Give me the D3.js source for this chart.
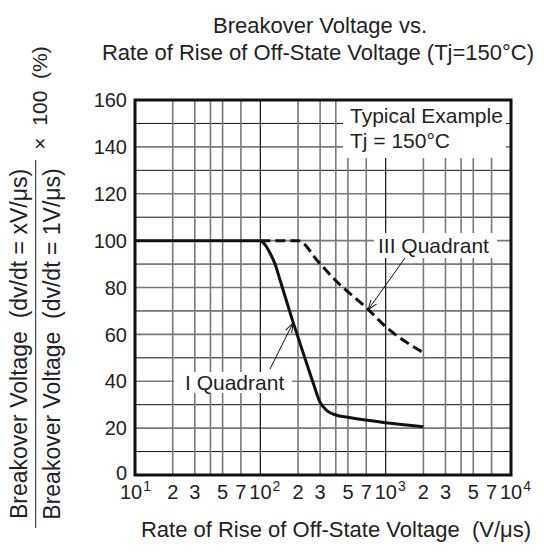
<!DOCTYPE html>
<html lang="en">
<head>
  <meta charset="UTF-8" />
  <title>Breakover Voltage vs. Rate of Rise of Off-State Voltage</title>
  <script src="https://d3js.org/d3.v7.min.js"></script>
  <style>
    body {
      margin: 0;
      background: #fff;
    }
    svg {
      font-family: "Liberation Sans", Arial, sans-serif;
      fill: #222;
    }
  </style>
</head>
<body>
  <svg id="chart" width="544" height="559"></svg>

  <script>
    // Data
    const iQuadX = [10, 100, 110, 120, 130, 144, 183, 220, 265, 300, 340, 400, 500, 1000, 2000];
    const iQuadY = [100, 100, 98, 94.5, 90.5, 83, 65, 52, 39, 31, 27.5, 25.6, 24.6, 22.3, 20.6];
    const iiiQuadX = [100, 200, 290, 395, 720, 1000, 2000];
    const iiiQuadY = [100, 100, 91, 83.2, 70.8, 63.3, 52.2];

    const yTicks = [0, 20, 40, 60, 80, 100, 120, 140, 160];
    const decades = [10, 100, 1000, 10000];
    const decadeExp = ["1", "2", "3", "4"];
    const minorMult = [2, 3, 5, 7];
    const gridMult = [2, 3, 4, 5, 7];

    const svg = d3.select("#chart");
    const pLeft = 135, pRight = 511, pTop = 100, pBottom = 475;

    const x = d3.scaleLog().domain([10, 10000]).range([pLeft, pRight]);
    const y = d3.scaleLinear().domain([0, 160]).range([pBottom, pTop]);

    // Grid
    const grid = svg.append("g");
    // horizontal lines every 10
    d3.range(10, 160, 10).forEach(v => {
      const major = v % 20 === 0;
      grid.append("line")
        .attr("x1", pLeft).attr("x2", pRight)
        .attr("y1", y(v)).attr("y2", y(v))
        .attr("stroke", major ? "#7a7a7a" : "#111")
        .attr("stroke-width", major ? 1.6 : 1);
    });
    // vertical lines
    decades.slice(0, 3).forEach(d => {
      gridMult.forEach(m => {
        grid.append("line")
          .attr("x1", x(d * m)).attr("x2", x(d * m))
          .attr("y1", pTop).attr("y2", pBottom)
          .attr("stroke", "#7a7a7a").attr("stroke-width", 1.6);
      });
      if (d > 10) {
        grid.append("line")
          .attr("x1", x(d)).attr("x2", x(d))
          .attr("y1", pTop).attr("y2", pBottom)
          .attr("stroke", "#111").attr("stroke-width", 1.2);
      }
    });

    // white boxes behind annotations
    const boxes = [
      [343, 100, 506, 158],
      [374, 233, 497, 258],
      [174, 372, 292, 393]
    ];
    boxes.forEach(b => {
      svg.append("rect")
        .attr("x", b[0]).attr("y", b[1])
        .attr("width", b[2] - b[0]).attr("height", b[3] - b[1])
        .attr("fill", "#fff");
    });

    // Frame
    svg.append("rect")
      .attr("x", pLeft).attr("y", pTop)
      .attr("width", pRight - pLeft).attr("height", pBottom - pTop)
      .attr("fill", "none").attr("stroke", "#111").attr("stroke-width", 3);

    // Curves
    const line = d3.line()
      .x(d => x(d[0]))
      .y(d => y(d[1]))
      .curve(d3.curveMonotoneX);

    svg.append("path")
      .datum(iiiQuadX.map((v, i) => [v, iiiQuadY[i]]))
      .attr("d", line)
      .attr("fill", "none").attr("stroke", "#111")
      .attr("stroke-width", 3).attr("stroke-dasharray", "10,5");

    svg.append("path")
      .datum(iQuadX.map((v, i) => [v, iQuadY[i]]))
      .attr("d", line)
      .attr("fill", "none").attr("stroke", "#111")
      .attr("stroke-width", 3);

    // Y tick labels
    svg.append("g").selectAll("text")
      .data(yTicks).enter().append("text")
      .attr("x", 127).attr("y", d => y(d) - (d === 0 ? 2 : 0))
      .attr("dy", "0.36em")
      .attr("text-anchor", "end")
      .attr("font-size", 20)
      .text(d => d);

    // X tick labels
    const xl = svg.append("g").attr("font-size", 20);
    decades.forEach((d, i) => {
      const t = xl.append("text")
        .attr("x", x(d) - 11 - (i === 0 ? 4 : 0))
        .attr("y", 499);
      t.append("tspan").text("10");
      t.append("tspan").attr("font-size", 14).attr("dy", -8).attr("dx", 1).text(decadeExp[i]);
    });
    decades.slice(0, 3).forEach(d => {
      minorMult.forEach(m => {
        xl.append("text")
          .attr("x", x(d * m)).attr("y", 499)
          .attr("text-anchor", "middle")
          .text(m);
      });
    });

    // Title
    svg.append("text")
      .attr("x", 320).attr("y", 33)
      .attr("text-anchor", "middle").attr("font-size", 22)
      .text("Breakover Voltage vs.");
    svg.append("text")
      .attr("x", 318).attr("y", 60)
      .attr("text-anchor", "middle").attr("font-size", 22)
      .text("Rate of Rise of Off-State Voltage (Tj=150°C)");

    // X axis title
    svg.append("text")
      .attr("x", 336).attr("y", 537)
      .attr("text-anchor", "middle").attr("font-size", 22)
      .attr("xml:space", "preserve")
      .text("Rate of Rise of Off-State Voltage  (V/\u03bcs)");

    // Y axis title (fraction)
    svg.append("text")
      .attr("transform", "translate(26.5,344) rotate(-90)")
      .attr("text-anchor", "middle").attr("font-size", 23)
      .attr("xml:space", "preserve")
      .text("Breakover Voltage  (dv/dt = xV/\u03bcs)");
    svg.append("text")
      .attr("transform", "translate(60,344) rotate(-90)")
      .attr("text-anchor", "middle").attr("font-size", 23)
      .attr("xml:space", "preserve")
      .text("Breakover Voltage  (dv/dt = 1V/\u03bcs)");
    svg.append("line")
      .attr("x1", 35.7).attr("x2", 35.7)
      .attr("y1", 160).attr("y2", 528)
      .attr("stroke", "#222").attr("stroke-width", 1);
    svg.append("text")
      .attr("transform", "translate(47,98) rotate(-90)")
      .attr("text-anchor", "middle").attr("font-size", 21)
      .attr("xml:space", "preserve")
      .text("\u00d7  100  (%)");

    // Annotations
    const ann = svg.append("g").attr("font-size", 21);
    ann.append("text").attr("x", 350).attr("y", 123).text("Typical Example");
    ann.append("text").attr("x", 350).attr("y", 148).text("Tj = 150°C");
    ann.append("text").attr("x", 378).attr("y", 253).text("III Quadrant");
    ann.append("text").attr("x", 185).attr("y", 390).text("I Quadrant");

    // leader arrows
    svg.append("defs").append("marker")
      .attr("id", "arr")
      .attr("viewBox", "0 0 10 10")
      .attr("refX", 10).attr("refY", 5)
      .attr("markerWidth", 10).attr("markerHeight", 10)
      .attr("markerUnits", "userSpaceOnUse")
      .attr("orient", "auto")
      .append("path")
      .attr("d", "M0,1.5 L10,5 L0,8.5")
      .attr("fill", "none").attr("stroke", "#111").attr("stroke-width", 1);

    const leaders = [
      [270, 369, 293, 323],
      [405, 258, 368, 310]
    ];
    leaders.forEach(l => {
      svg.append("line")
        .attr("x1", l[0]).attr("y1", l[1])
        .attr("x2", l[2]).attr("y2", l[3])
        .attr("stroke", "#111").attr("stroke-width", 1)
        .attr("marker-end", "url(#arr)");
    });
  </script>
</body>
</html>
